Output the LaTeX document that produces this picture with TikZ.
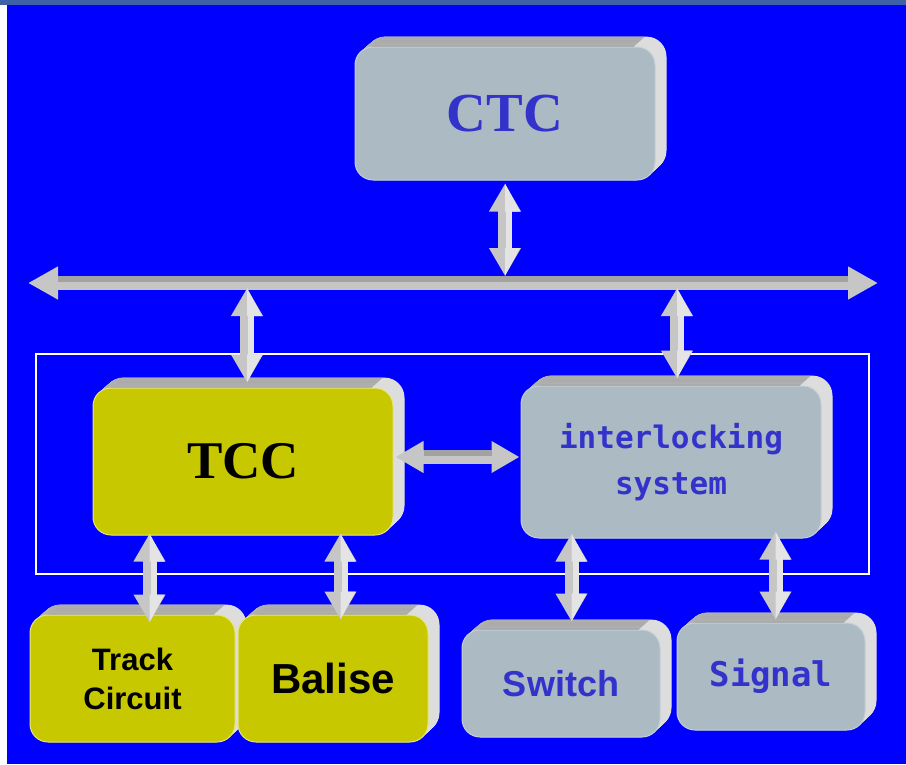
\documentclass[tikz,border=0pt]{standalone}
\usepackage{fontspec}
\usetikzlibrary{arrows.meta,calc}
\newfontfamily\tnr{Liberation Serif}
\newfontfamily\arial{Liberation Sans}
\newfontfamily\mono{DejaVu Sans Mono}
\pgfdeclarelayer{back}
\pgfdeclarelayer{bg}
\pgfsetlayers{back,bg,main}
\definecolor{bgblue}{HTML}{0000FF}
\definecolor{topstrip}{HTML}{3D62A8}
\definecolor{boxgray}{HTML}{ABBAC3}
\definecolor{gedge}{HTML}{C4D0D6}
\definecolor{boxyel}{HTML}{C8C800}
\definecolor{yedge}{HTML}{E6E67A}
\definecolor{txtblue}{HTML}{3333CC}
\definecolor{bevdark}{HTML}{9C9C9C}
\definecolor{bevlight}{HTML}{DDDDDD}
\definecolor{arrgray}{HTML}{C6C6C6}
\definecolor{arrdark}{HTML}{A2A2A2}
\definecolor{arrlight}{HTML}{E4E4E4}
\tikzset{
 front/.style={rounded corners=18pt, inner sep=0pt, line width=1pt},
 gbox/.style={front, fill=boxgray, draw=gedge},
 ybox/.style={front, fill=boxyel, draw=yedge},
 arr/.style={draw=arrgray, line width=14pt, {Triangle[width=30pt,length=28pt]}-{Triangle[width=30pt,length=28pt]}},
 vhl/.style={draw=arrlight, line width=6pt, shorten <=27pt, shorten >=27pt},
 hdark/.style={draw=arrdark, line width=6pt, shorten <=28pt, shorten >=28pt},
}
\newcommand\extrude[1]{%
 \begin{pgfonlayer}{bg}
 \foreach \t in {11,10.5,...,0.5}{%
  \fill[bevlight, rounded corners=20pt] ($(#1.south west)+(\t,-\t*0.9)$) rectangle ($(#1.north east)+(\t,-\t*0.9)$);
  \begin{scope}
   \clip ($(#1.north west)+(\t-30,-\t*0.9-5)$) rectangle ($(#1.north east)+(\t-22,-\t*0.9+22)$);
   \fill[bevdark, rounded corners=20pt] ($(#1.south west)+(\t,-\t*0.9)$) rectangle ($(#1.north east)+(\t,-\t*0.9)$);
  \end{scope}
 }
 \end{pgfonlayer}}
% vertical double arrow, #1 = upper end, #2 = lower end
\newcommand\vconn[2]{%
 \draw[arr] (#1) -- (#2);
 \fill[arrlight] (#1) -- ($(#1)+(15,28)$) -- ($(#1)+(0,28)$) -- cycle;
 \fill[arrlight] (#2) -- ($(#2)+(15,-28)$) -- ($(#2)+(0,-28)$) -- cycle;
 \draw[vhl] ($(#1)+(4,0)$) -- ($(#2)+(4,0)$);}
\begin{document}
\begin{tikzpicture}[x=1pt,y=-1pt]
\useasboundingbox (0,0) rectangle (906,764);
\begin{pgfonlayer}{back}
\fill[bgblue] (0,0) rectangle (906,764);
\fill[topstrip] (0,0) rectangle (906,5);
\fill[white] (0,5) rectangle (7,764);
\end{pgfonlayer}
\node[draw=white, line width=2pt, minimum width=833pt, minimum height=220pt, inner sep=0pt] (frame) at (452.5,464) {};
% boxes
\node[gbox, minimum width=300pt, minimum height=133pt, text=txtblue, font=\tnr\bfseries\fontsize{55}{60}\selectfont] (ctc) at (505,113.5) {CTC};
\node[ybox, minimum width=300pt, minimum height=147pt, text=black, font=\tnr\bfseries\fontsize{53}{60}\selectfont] (tcc) at (243,461.5) {TCC};
\node[gbox, minimum width=300pt, minimum height=152pt, text=txtblue, align=center, font=\mono\bfseries\fontsize{31}{46}\selectfont] (il) at (671,462) {interlocking\\system};
\node[ybox, minimum width=205pt, minimum height=127pt, text=black, align=center, font=\arial\bfseries\fontsize{31}{39}\selectfont] (track) at (132.5,678.5) {Track\\Circuit};
\node[ybox, minimum width=190pt, minimum height=127pt, text=black, font=\arial\bfseries\fontsize{42}{48}\selectfont] (balise) at (333,678.5) {Balise};
\node[gbox, minimum width=198pt, minimum height=107pt, text=txtblue, font=\arial\bfseries\fontsize{36}{42}\selectfont] (switch) at (561,683.5) {Switch};
\node[gbox, minimum width=188pt, minimum height=107pt, text=txtblue, font=\mono\bfseries\fontsize{34}{40}\selectfont] (signal) at (771,676.5) {Signal};
\extrude{ctc}\extrude{tcc}\extrude{il}\extrude{track}\extrude{balise}\extrude{switch}\extrude{signal}
% bus
\coordinate (busL) at (28,283);
\coordinate (busR) at (878,283);
\draw[arr, {Triangle[width=31pt,length=30pt]}-{Triangle[width=31pt,length=30pt]}] (busL) -- (busR);
\draw[hdark, shorten <=30pt, shorten >=30pt] ($(busL)+(0,-4)$) -- ($(busR)+(0,-4)$);
% coordinates for connectors
\coordinate (c1) at ($(ctc.south)+(0,3)$);
\coordinate (c2) at ($(ctc.south |- busL)+(0,-7)$);
\coordinate (t1) at ($(tcc.north |- busL)+(4,5)$);
\coordinate (t2) at ($(tcc.north)+(4,-5)$);
\coordinate (i1) at ($(il.north |- busL)+(6,5)$);
\coordinate (i2) at ($(il.north)+(6,-7)$);
\coordinate (h1) at ($(tcc.east)+(2,-4.5)$);
\coordinate (h2) at ($(il.west)+(-1,-5)$);
\coordinate (b1) at ($(tcc.south west)+(57,-2)$);
\coordinate (b2) at ($(b1 |- track.north)+(0,8)$);
\coordinate (b3) at ($(tcc.south west)+(248,-2)$);
\coordinate (b4) at ($(b3 |- balise.north)+(0,5)$);
\coordinate (s1) at ($(il.south west)+(51,-5)$);
\coordinate (s2) at ($(s1 |- switch.north)+(0,-8)$);
\coordinate (g1) at ($(il.south west)+(255,-7)$);
\coordinate (g2) at ($(g1 |- signal.north)+(0,-3)$);
\vconn{c1}{c2}
\vconn{t1}{t2}
\vconn{i1}{i2}
\draw[arr] (h1) -- (h2);
\draw[hdark] ($(h1)+(0,-4)$) -- ($(h2)+(0,-4)$);
\vconn{b1}{b2}
\vconn{b3}{b4}
\vconn{s1}{s2}
\vconn{g1}{g2}
\end{tikzpicture}
\end{document}
